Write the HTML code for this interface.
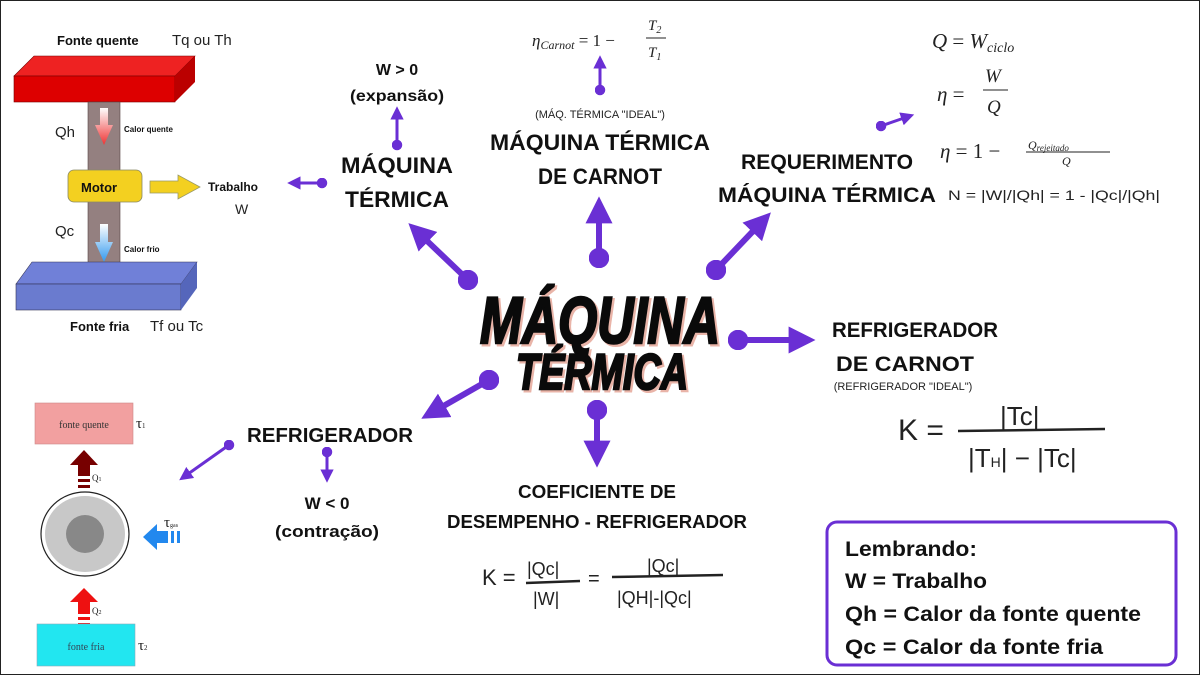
<!DOCTYPE html>
<html><head><meta charset="utf-8"><style>
body{margin:0;width:1200px;height:675px;overflow:hidden;background:#fff}
svg{display:block}
.b{font-family:"Liberation Sans",sans-serif;font-weight:bold;fill:#111}
.s{font-family:"Liberation Serif",serif;font-style:italic;fill:#222}
.n{font-family:"Liberation Sans",sans-serif;fill:#222}
.h{font-family:"Liberation Sans",sans-serif;fill:#222}
</style></head><body>
<svg width="1200" height="675" viewBox="0 0 1200 675" xmlns="http://www.w3.org/2000/svg">
<defs>
<marker id="hd" viewBox="0 0 10 10" refX="2" refY="5" markerWidth="4.5" markerHeight="4.5" orient="auto"><path d="M0,0 L10,5 L0,10z" fill="#6a2fd4"/></marker>
<marker id="dt" viewBox="0 0 10 10" refX="5" refY="5" markerWidth="3.4" markerHeight="3.4"><circle cx="5" cy="5" r="5" fill="#6a2fd4"/></marker>
<marker id="hs" viewBox="0 0 10 10" refX="2" refY="5" markerWidth="4.5" markerHeight="4.5" orient="auto"><path d="M0,0 L10,5 L0,10z" fill="#6a2fd4"/></marker>
<marker id="ds" viewBox="0 0 10 10" refX="5" refY="5" markerWidth="3.5" markerHeight="3.5"><circle cx="5" cy="5" r="5" fill="#6a2fd4"/></marker>
<linearGradient id="rg" x1="0" y1="0" x2="0" y2="1"><stop offset="0" stop-color="#fff"/><stop offset="1" stop-color="#e33"/></linearGradient>
<linearGradient id="bg" x1="0" y1="0" x2="0" y2="1"><stop offset="0" stop-color="#fff"/><stop offset="1" stop-color="#39e"/></linearGradient>
</defs>
<rect x="0.5" y="0.5" width="1199" height="674" fill="none" stroke="#222" stroke-width="1"/>

<g stroke="#6a2fd4" stroke-width="6" fill="none">
<line x1="468" y1="280" x2="424" y2="238" marker-start="url(#dt)" marker-end="url(#hd)"/>
<line x1="599" y1="258" x2="599" y2="218" marker-start="url(#dt)" marker-end="url(#hd)"/>
<line x1="716" y1="270" x2="756" y2="228" marker-start="url(#dt)" marker-end="url(#hd)"/>
<line x1="738" y1="340" x2="794" y2="340" marker-start="url(#dt)" marker-end="url(#hd)"/>
<line x1="597" y1="410" x2="597" y2="446" marker-start="url(#dt)" marker-end="url(#hd)"/>
<line x1="489" y1="380" x2="440" y2="408" marker-start="url(#dt)" marker-end="url(#hd)"/>
</g>
<g stroke="#6a2fd4" stroke-width="3" fill="none">
<line x1="397" y1="145" x2="397" y2="117" marker-start="url(#ds)" marker-end="url(#hs)"/>
<line x1="322" y1="183" x2="298" y2="183" marker-start="url(#ds)" marker-end="url(#hs)"/>
<line x1="600" y1="90" x2="600" y2="66" marker-start="url(#ds)" marker-end="url(#hs)"/>
<line x1="881" y1="126" x2="904" y2="118" marker-start="url(#ds)" marker-end="url(#hs)"/>
<line x1="229" y1="445" x2="188" y2="474" marker-start="url(#ds)" marker-end="url(#hs)"/>
<line x1="327" y1="452" x2="327" y2="472" marker-start="url(#ds)" marker-end="url(#hs)"/>
</g>

<g font-family="Liberation Sans,sans-serif" font-weight="bold" font-style="italic">
<text x="602" y="345" text-anchor="middle" font-size="66" textLength="240" lengthAdjust="spacingAndGlyphs" fill="#e9b4a8" stroke="#e9b4a8" stroke-width="3">MÁQUINA</text>
<text x="604" y="391" text-anchor="middle" font-size="50" textLength="172" lengthAdjust="spacingAndGlyphs" fill="#e9b4a8" stroke="#e9b4a8" stroke-width="3">TÉRMICA</text>
<text x="600" y="343" text-anchor="middle" font-size="66" textLength="240" lengthAdjust="spacingAndGlyphs" fill="#0a0a0a" stroke="#0a0a0a" stroke-width="2.5">MÁQUINA</text>
<text x="602" y="389" text-anchor="middle" font-size="50" textLength="172" lengthAdjust="spacingAndGlyphs" fill="#0a0a0a" stroke="#0a0a0a" stroke-width="2.5">TÉRMICA</text>
</g>

<text class="b" x="397" y="173" text-anchor="middle" font-size="22" textLength="112" lengthAdjust="spacingAndGlyphs">MÁQUINA</text>
<text class="b" x="397" y="207" text-anchor="middle" font-size="22" textLength="104" lengthAdjust="spacingAndGlyphs">TÉRMICA</text>
<text class="b" x="397" y="75" text-anchor="middle" font-size="16">W &gt; 0</text>
<text class="b" x="397" y="101" text-anchor="middle" font-size="16" textLength="94" lengthAdjust="spacingAndGlyphs">(expansão)</text>

<text class="n" x="600" y="118" text-anchor="middle" font-size="11">(MÁQ. TÉRMICA "IDEAL")</text>
<text class="b" x="600" y="150" text-anchor="middle" font-size="22" textLength="220" lengthAdjust="spacingAndGlyphs">MÁQUINA TÉRMICA</text>
<text class="b" x="600" y="184" text-anchor="middle" font-size="22" textLength="124" lengthAdjust="spacingAndGlyphs">DE CARNOT</text>
<text class="s" x="532" y="46" font-size="17">η<tspan font-size="12" dy="3">Carnot</tspan><tspan dy="-3" font-style="normal"> = 1 −</tspan></text>
<text class="s" x="648" y="30" font-size="15">T<tspan font-size="10" dy="3">2</tspan></text>
<line x1="646" y1="38" x2="666" y2="38" stroke="#222" stroke-width="1"/>
<text class="s" x="648" y="57" font-size="15">T<tspan font-size="10" dy="3">1</tspan></text>

<text class="b" x="827" y="169" text-anchor="middle" font-size="21" textLength="172" lengthAdjust="spacingAndGlyphs">REQUERIMENTO</text>
<text class="b" x="827" y="202" text-anchor="middle" font-size="21" textLength="218" lengthAdjust="spacingAndGlyphs">MÁQUINA TÉRMICA</text>
<text class="n" x="948" y="200" font-size="14" textLength="212" lengthAdjust="spacingAndGlyphs">N = |W|/|Qh| = 1 - |Qc|/|Qh|</text>
<text class="s" x="932" y="48" font-size="21">Q <tspan font-style="normal">=</tspan> W<tspan font-size="14" dy="4">ciclo</tspan></text>
<text class="s" x="937" y="101" font-size="21">η <tspan font-style="normal">=</tspan></text>
<text class="s" x="985" y="82" font-size="19">W</text>
<line x1="983" y1="90" x2="1008" y2="90" stroke="#222"/>
<text class="s" x="987" y="113" font-size="19">Q</text>
<text class="s" x="940" y="158" font-size="21">η <tspan font-style="normal">= 1 −</tspan></text>
<text class="s" x="1028" y="149" font-size="12">Q<tspan font-size="9" dy="2">rejeitado</tspan></text>
<line x1="1026" y1="152" x2="1110" y2="152" stroke="#222"/>
<text class="s" x="1062" y="165" font-size="12">Q</text>

<text class="b" x="915" y="337" text-anchor="middle" font-size="21" textLength="166" lengthAdjust="spacingAndGlyphs">REFRIGERADOR</text>
<text class="b" x="905" y="371" text-anchor="middle" font-size="21" textLength="138" lengthAdjust="spacingAndGlyphs">DE CARNOT</text>
<text class="n" x="903" y="390" text-anchor="middle" font-size="11">(REFRIGERADOR "IDEAL")</text>
<g class="h" font-size="30" fill="#222">
<text x="898" y="440">K =</text>
<text x="1000" y="425" font-size="26">|Tc|</text>
<line x1="958" y1="431" x2="1105" y2="429" stroke="#222" stroke-width="2.5"/>
<text x="968" y="467" font-size="26">|T<tspan font-size="14">H</tspan>| − |Tc|</text>
</g>

<text class="b" x="597" y="498" text-anchor="middle" font-size="18" textLength="158" lengthAdjust="spacingAndGlyphs">COEFICIENTE DE</text>
<text class="b" x="597" y="528" text-anchor="middle" font-size="18" textLength="300" lengthAdjust="spacingAndGlyphs">DESEMPENHO - REFRIGERADOR</text>
<g class="h" fill="#222">
<text x="482" y="585" font-size="22">K =</text>
<text x="527" y="575" font-size="18">|Qc|</text>
<line x1="526" y1="583" x2="580" y2="581" stroke="#222" stroke-width="2.5"/>
<text x="533" y="605" font-size="18">|W|</text>
<text x="588" y="585" font-size="20">=</text>
<text x="647" y="572" font-size="18">|Qc|</text>
<line x1="612" y1="577" x2="723" y2="575" stroke="#222" stroke-width="2.5"/>
<text x="617" y="604" font-size="18">|QH|-|Qc|</text>
</g>

<text class="b" x="330" y="442" text-anchor="middle" font-size="20" textLength="166" lengthAdjust="spacingAndGlyphs">REFRIGERADOR</text>
<text class="b" x="327" y="509" text-anchor="middle" font-size="17">W &lt; 0</text>
<text class="b" x="327" y="537" text-anchor="middle" font-size="17" textLength="104" lengthAdjust="spacingAndGlyphs">(contração)</text>

<rect x="827" y="522" width="349" height="143" rx="10" fill="#fff" stroke="#6a2fd4" stroke-width="3"/>
<g class="b" font-size="21">
<text x="845" y="556" textLength="132" lengthAdjust="spacingAndGlyphs">Lembrando:</text>
<text x="845" y="588" textLength="142" lengthAdjust="spacingAndGlyphs">W = Trabalho</text>
<text x="845" y="621" textLength="296" lengthAdjust="spacingAndGlyphs">Qh = Calor da fonte quente</text>
<text x="845" y="654" textLength="258" lengthAdjust="spacingAndGlyphs">Qc = Calor da fonte fria</text>
</g>

<text class="b" x="57" y="45" font-size="13">Fonte quente</text>
<text class="n" x="172" y="45" font-size="15">Tq ou Th</text>
<polygon points="14,76 34,56 195,56 175,76" fill="#e22" stroke="#700" stroke-width="0.6"/>
<rect x="14" y="76" width="161" height="26" fill="#d00" stroke="#700" stroke-width="0.6"/>
<polygon points="175,76 195,56 195,82 175,102" fill="#b00"/>
<rect x="88" y="102" width="32" height="170" fill="#948080" stroke="#544" stroke-width="0.6"/>
<polygon points="100,108 108,108 108,125 113,125 104,145 95,125 100,125" fill="url(#rg)"/>
<polygon points="100,224 108,224 108,242 113,242 104,262 95,242 100,242" fill="url(#bg)"/>
<rect x="68" y="170" width="74" height="32" rx="6" fill="#f3d020" stroke="#886" stroke-width="0.8"/>
<text class="b" x="81" y="192" font-size="13">Motor</text>
<polygon points="150,181 178,181 178,175 200,187 178,199 178,193 150,193" fill="#f3d020" stroke="#996" stroke-width="0.8"/>
<text class="b" x="208" y="191" font-size="12">Trabalho</text>
<text class="n" x="235" y="214" font-size="14">W</text>
<text class="n" x="55" y="137" font-size="15">Qh</text>
<text class="b" x="124" y="132" font-size="8">Calor quente</text>
<text class="n" x="55" y="236" font-size="15">Qc</text>
<text class="b" x="124" y="252" font-size="8">Calor frio</text>
<polygon points="16,284 32,262 197,262 181,284" fill="#7080d8" stroke="#335" stroke-width="0.6"/>
<rect x="16" y="284" width="165" height="26" fill="#6a7bcf" stroke="#335" stroke-width="0.6"/>
<polygon points="181,284 197,262 197,288 181,310" fill="#5566bb"/>
<text class="b" x="70" y="331" font-size="13">Fonte fria</text>
<text class="n" x="150" y="331" font-size="15">Tf ou Tc</text>

<rect x="35" y="403" width="98" height="41" fill="#f2a0a0" stroke="#c88" stroke-width="0.6"/>
<text x="84" y="428" text-anchor="middle" font-family="Liberation Serif,serif" font-size="10" fill="#333">fonte quente</text>
<text x="136" y="428" font-family="Liberation Serif,serif" font-size="15" fill="#222">τ<tspan font-size="7">1</tspan></text>
<polygon points="70,465 84,450 98,465 90,465 90,476 78,476 78,465" fill="#700"/>
<rect x="78" y="479" width="12" height="3" fill="#700"/><rect x="78" y="485" width="12" height="3" fill="#700"/>
<text x="92" y="481" font-family="Liberation Serif,serif" font-size="9" fill="#222">Q<tspan font-size="6">1</tspan></text>
<ellipse cx="85" cy="534" rx="44" ry="42" fill="#fff" stroke="#222" stroke-width="1.2"/>
<ellipse cx="85" cy="534" rx="40" ry="38" fill="#c8c8c8"/>
<circle cx="85" cy="534" r="19" fill="#888"/>
<polygon points="143,537 157,524 157,531 168,531 168,543 157,543 157,550" fill="#2288ee"/>
<rect x="171" y="531" width="3" height="12" fill="#2288ee"/><rect x="177" y="531" width="3" height="12" fill="#2288ee"/>
<text x="164" y="527" font-family="Liberation Serif,serif" font-size="15" fill="#222">τ<tspan font-size="6">gas</tspan></text>
<polygon points="70,602 84,588 98,602 90,602 90,614 78,614 78,602" fill="#e11"/>
<rect x="78" y="617" width="12" height="3" fill="#e11"/><rect x="78" y="623" width="12" height="3" fill="#e11"/>
<text x="92" y="614" font-family="Liberation Serif,serif" font-size="9" fill="#222">Q<tspan font-size="6">2</tspan></text>
<rect x="37" y="624" width="98" height="42" fill="#22e6f0" stroke="#8ab" stroke-width="0.6"/>
<text x="86" y="650" text-anchor="middle" font-family="Liberation Serif,serif" font-size="10" fill="#345">fonte fria</text>
<text x="138" y="650" font-family="Liberation Serif,serif" font-size="15" fill="#222">τ<tspan font-size="7">2</tspan></text>
</svg>
</body></html>
